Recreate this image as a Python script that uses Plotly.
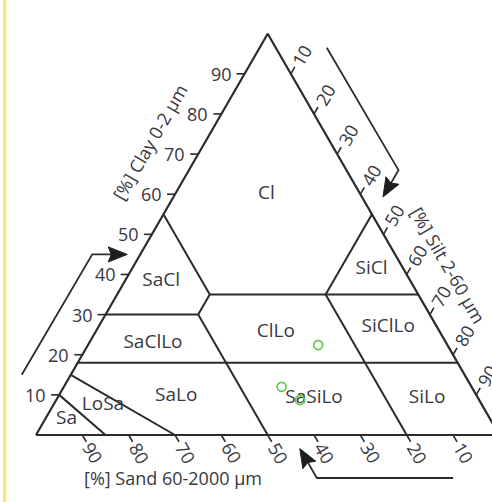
import numpy as np
import plotly.graph_objects as go

# ---------------- data ----------------
tick_values = [10, 20, 30, 40, 50, 60, 70, 80, 90]
tick_labels = [str(v) for v in tick_values]

# texture-class boundary polylines as (clay %, silt %) vertices; sand = 100 - clay - silt
outline_clay = [0, 100, 0, 0]
outline_silt = [0, 0, 100, 0]
boundary_clay = [[55, 35, 30], [55, 35], [35, 35], [30, 30], [30, 0], [35, 0], [18, 18], [10, 0], [15, 0]]
boundary_silt = [[0, 20, 20], [45, 45], [20, 65], [0, 20], [20, 50], [45, 80], [0, 82], [0, 15], [0, 30]]

class_names = ["Cl", "SiCl", "SaCl", "SaClLo", "ClLo", "SiClLo", "SaLo", "SaSiLo", "SiLo", "LoSa", "Sa"]
class_label_clay = [60, 41.2, 38.4, 22.9, 25.5, 26.8, 9.7, 9.2, 9.2, 7.3, 4.0]
class_label_silt = [19.7, 51.8, 7.8, 13.8, 39.0, 62.6, 25.4, 55.4, 79.8, 10.8, 4.6]

sample_clay = [22.4, 12.0, 8.7]
sample_silt = [49.7, 47.0, 52.6]
sample_sand = [100 - c - s for c, s in zip(sample_clay, sample_silt)]

clay_title = "[%] Clay 0-2 µm"
silt_title = "[%] Silt 2-60 µm"
sand_title = "[%] Sand 60-2000 µm"

# ---------------- geometry / style ----------------
W, H = 492, 502
LEFT_PX, BASE_PX, SIDE_PX = 36.0, 435.0, 463.4
S = SIDE_PX / 100.0
R3 = np.sqrt(3) / 2
LINE = "#2b2b2b"
TXT = "#383842"
FONT = "Open Sans"
FS = 18


def xy(clay, silt):
    clay = np.asarray(clay, float)
    silt = np.asarray(silt, float)
    return silt + clay / 2.0, clay * R3


def off(p, dx_px, dy_px):
    return (p[0] + dx_px / S, p[1] - dy_px / S)


def along(p, dir_screen, dist_px):
    return off(p, dir_screen[0] * dist_px, dir_screen[1] * dist_px)


fig = go.Figure()

# ticks
tx, ty = [], []
annotations = []
for v, lab in zip(tick_values, tick_labels):
    # clay ticks on left edge
    p = xy(v, 0)
    q = off(p, -8, 0)
    tx += [float(p[0]), q[0], None]
    ty += [float(p[1]), q[1], None]
    lp = off(p, -11, 0)
    annotations.append(dict(x=lp[0], y=lp[1], text=lab, xanchor="right", yanchor="middle"))
    # silt ticks on right edge
    p = xy(100 - v, v)
    d = (0.5, -R3)
    q = along(p, d, 8)
    tx += [float(p[0]), q[0], None]
    ty += [float(p[1]), q[1], None]
    lp = along(p, d, 22)
    annotations.append(dict(x=lp[0], y=lp[1], text=lab, textangle=-60, xanchor="center", yanchor="middle"))
    # sand ticks on bottom edge
    p = xy(0, 100 - v)
    d = (0.5, R3)
    q = along(p, d, 8)
    tx += [float(p[0]), q[0], None]
    ty += [float(p[1]), q[1], None]
    lp = along(p, d, 21)
    annotations.append(dict(x=lp[0], y=lp[1], text=lab, textangle=60, xanchor="center", yanchor="middle"))

fig.add_trace(go.Scatter(x=tx, y=ty, mode="lines", line=dict(color=LINE, width=1.6), hoverinfo="skip"))

# class boundaries
bx, by = [], []
for cl, si in zip(boundary_clay, boundary_silt):
    X, Y = xy(cl, si)
    bx += list(X) + [None]
    by += list(Y) + [None]
fig.add_trace(go.Scatter(x=bx, y=by, mode="lines", line=dict(color=LINE, width=2), hoverinfo="skip"))

# outline
X, Y = xy(outline_clay, outline_silt)
fig.add_trace(go.Scatter(x=X, y=Y, mode="lines", line=dict(color=LINE, width=2.2), hoverinfo="skip"))


# arrows
def arrow(path, tip, dir_screen, length=19, half=7.5, notch=3):
    dxd, dyd = dir_screen[0], -dir_screen[1]
    px, py = -dyd, dxd
    bc = (tip[0] - dxd * length / S, tip[1] - dyd * length / S)
    nt = (tip[0] - dxd * (length - notch) / S, tip[1] - dyd * (length - notch) / S)
    l = (bc[0] + px * half / S, bc[1] + py * half / S)
    r = (bc[0] - px * half / S, bc[1] - py * half / S)
    pts = list(path) + [nt]
    fig.add_trace(go.Scatter(x=[p[0] for p in pts], y=[p[1] for p in pts], mode="lines",
                             line=dict(color=LINE, width=1.8), hoverinfo="skip"))
    fig.add_trace(go.Scatter(x=[tip[0], l[0], nt[0], r[0], tip[0]], y=[tip[1], l[1], nt[1], r[1], tip[1]],
                             mode="lines", fill="toself", fillcolor="#1e1e1e",
                             line=dict(color="#1e1e1e", width=1), hoverinfo="skip"))


# clay arrow (left)
a0 = off(xy(15, 0), -49, 0)
a1 = off(xy(45, 0), -48, 0)
atip = off(xy(45, 0), -13, 0)
arrow([a0, a1], atip, (1, 0))
# silt arrow (right)
b0 = off(xy(96.5, 3.5), 51, 0)
b1 = off(xy(66, 34), 52, 0)
btip = along(b1, (-0.5, R3), 31)
arrow([b0, b1], btip, (-0.5, R3))
# sand arrow (bottom)
c0 = off(xy(0, 90), 0, 43)
c1 = off(xy(0, 60.6), 0, 43)
ctip = along(c1, (-0.5, -R3), 34)
arrow([c0, c1], ctip, (-0.5, -R3))

# class labels
LX, LY = xy(class_label_clay, class_label_silt)
fig.add_trace(go.Scatter(x=LX, y=LY, mode="text", text=class_names, textposition="middle center",
                         textfont=dict(family=FONT, size=19, color=TXT), hoverinfo="skip"))

# samples
PX, PY = xy(sample_clay, sample_silt)
fig.add_trace(go.Scatter(x=PX, y=PY, mode="markers",
                         marker=dict(symbol="circle-open", size=9, color="#5cc84a", line=dict(width=1.6)),
                         customdata=np.array(sample_sand), hoverinfo="skip"))

# axis titles
annotations.append(dict(x=(150 - LEFT_PX) / S, y=(BASE_PX - 142) / S, text=clay_title, textangle=-60,
                        xanchor="center", yanchor="middle"))
annotations.append(dict(x=(448 - LEFT_PX) / S, y=(BASE_PX - 265) / S, text=silt_title, textangle=60,
                        xanchor="center", yanchor="middle"))
annotations.append(dict(x=(172.5 - LEFT_PX) / S, y=(BASE_PX - 478) / S, text=sand_title,
                        xanchor="center", yanchor="middle"))

for a in annotations:
    a.update(xref="x", yref="y", showarrow=False, font=dict(family=FONT, size=FS, color=TXT))

fig.update_layout(
    width=W, height=H, autosize=False,
    margin=dict(l=0, r=0, t=0, b=0, pad=0),
    paper_bgcolor="white", plot_bgcolor="white",
    showlegend=False,
    xaxis=dict(visible=False, range=[-LEFT_PX / S, (W - LEFT_PX) / S], fixedrange=True),
    yaxis=dict(visible=False, range=[-(H - BASE_PX) / S, BASE_PX / S], fixedrange=True),
    annotations=annotations,
    shapes=[dict(type="line", xref="paper", yref="paper", x0=4.7 / W, x1=4.7 / W, y0=0, y1=1,
                 line=dict(color="#f2e58a", width=3.5))],
)

fig.write_html("out.html")
